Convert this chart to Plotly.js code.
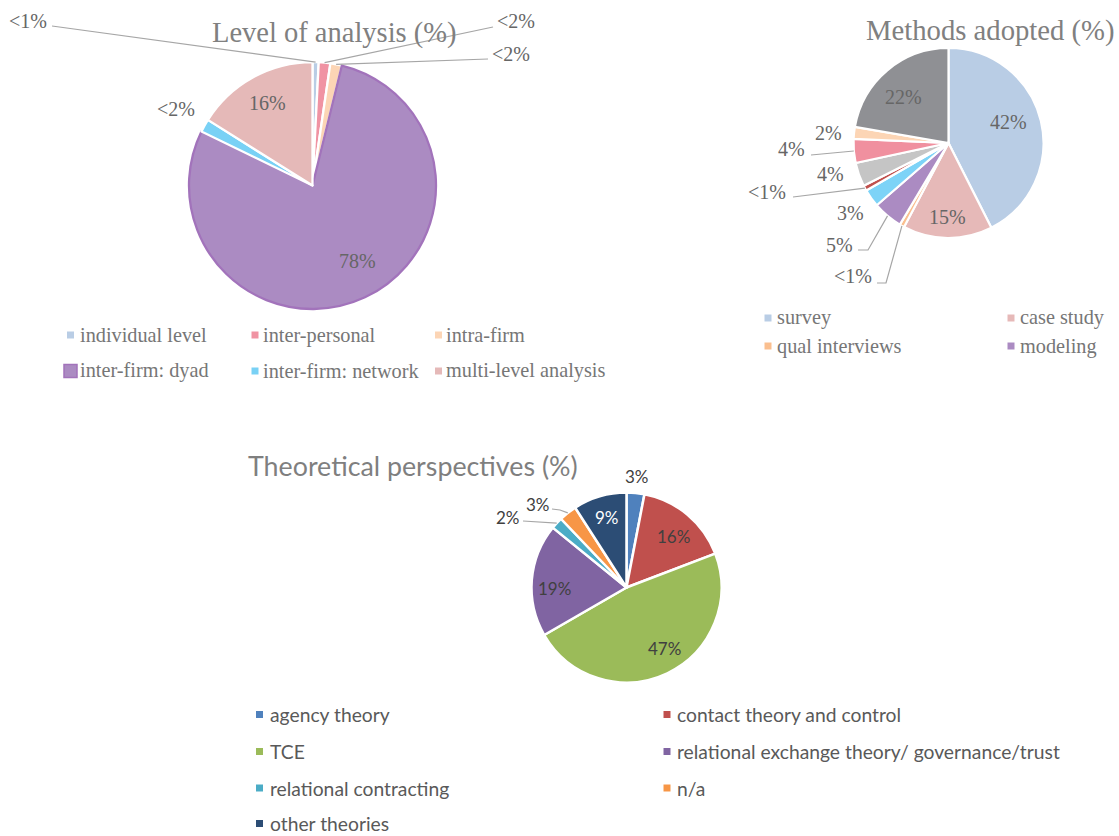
<!DOCTYPE html>
<html><head><meta charset="utf-8">
<script src="https://cdn.plot.ly/plotly-3.0.1.min.js"></script>
<style>html,body{margin:0;padding:0;background:#fff}#chart{width:1119px;height:836px}</style>
</head><body><div id="chart"></div>
<script>
// ---------------- data ----------------
const levelCategories = ['individual level', 'inter-personal', 'intra-firm', 'inter-firm: dyad', 'inter-firm: network', 'multi-level analysis'];
const levelValues = [0.8, 1.5, 1.5, 78, 1.7, 16];
const levelLabels = ['<1%', '<2%', '<2%', '78%', '<2%', '16%'];

const methodCategories = ['survey', 'case study', 'qual interviews', 'modeling', 'method 5', 'method 6', 'method 7', 'method 8', 'method 9', 'method 10'];
const methodValues = [42, 15, 0.8, 5, 3, 0.9, 4, 4, 2, 22];
const methodLabels = ['42%', '15%', '<1%', '5%', '3%', '<1%', '4%', '4%', '2%', '22%'];
const methodLegendCategories = ['survey', 'case study', 'qual interviews', 'modeling'];

const theoryCategories = ['agency theory', 'contact theory and control', 'TCE', 'relational exchange theory/ governance/trust', 'relational contracting', 'n/a', 'other theories'];
const theoryValues = [3, 16, 47, 19, 2, 3, 9];
const theoryLabels = ['3%', '16%', '47%', '19%', '2%', '3%', '9%'];

const titles = ['Level of analysis (%)', 'Methods adopted (%)', 'Theoretical perspectives (%)'];

// ---------------- styles / layout ----------------
const W = 1119, H = 836;
const fx = x => x / W, fy = y => 1 - y / H;

const levelColors = ['#b9cde5', '#f093a3', '#fcd5b5', '#ab8bc2', '#79d1f5', '#e5b9b8'];
const methodColors = ['#b9cde5', '#e6b9b8', '#fabf8f', '#ab8bc2', '#7dd3f7', '#c0504d', '#c5c5c5', '#f0909f', '#fcd5b5', '#8f9094'];
const theoryColors = ['#4f81bd', '#c0504d', '#9bbb59', '#8064a2', '#4bacc6', '#f79646', '#2c4d75'];

const serif = 'Liberation Serif, Times New Roman, serif';
const sans = 'Lato, Open Sans, sans-serif';

const pieGeo = [
  {cx: 312.5, cy: 185.5, r: 123.5},
  {cx: 948.5, cy: 143, r: 95},
  {cx: 626.5, cy: 587.5, r: 95}
];

function domainOf(g) {
  return {x: [fx(g.cx - g.r), fx(g.cx + g.r)], y: [fy(g.cy + g.r), fy(g.cy - g.r)]};
}

function edgePoint(values, i, g) {
  const total = values.reduce((a, b) => a + b, 0);
  let cum = 0;
  for (let k = 0; k < i; k++) cum += values[k];
  const a = (cum + values[i] / 2) / total * 2 * Math.PI;
  return [g.cx + g.r * Math.sin(a), g.cy - g.r * Math.cos(a)];
}

// label placement (pixels) and optional leader-line elbow points
const levelLabelPos = [
  {p: [28, 21], lead: [[52, 26]]},
  {p: [516, 21], lead: [[493, 27]]},
  {p: [511, 54], lead: [[488, 59]]},
  {p: [358, 261]},
  {p: [176, 109]},
  {p: [267, 103]}
];
const methodLabelPos = [
  {p: [1008, 122]},
  {p: [947, 217]},
  {p: [853, 276], lead: [[877, 283], [886, 283]]},
  {p: [840, 245], lead: [[858, 250], [868, 250]]},
  {p: [850, 213]},
  {p: [767, 192], lead: [[793, 197]]},
  {p: [830, 174]},
  {p: [791, 149], lead: [[811, 155]]},
  {p: [828, 133]},
  {p: [903, 97]}
];
const theoryLabelPos = [
  {p: [637, 476]},
  {p: [673, 536]},
  {p: [664, 648]},
  {p: [554, 588]},
  {p: [508, 517], lead: [[523, 521]]},
  {p: [538, 505], lead: [[552, 509], [560, 510]]},
  {p: [607, 517]}
];

const traces = [
  {
    type: 'pie', values: levelValues, labels: levelCategories, sort: false, direction: 'clockwise', rotation: 0,
    domain: domainOf(pieGeo[0]), textinfo: 'none', hoverinfo: 'none', showlegend: false,
    marker: {colors: levelColors, line: {color: ['#fff', '#fff', '#fff', '#a273bb', '#fff', '#fff'], width: 2.3}}
  },
  {
    type: 'pie', values: methodValues, labels: methodCategories, sort: false, direction: 'clockwise', rotation: 0,
    domain: domainOf(pieGeo[1]), textinfo: 'none', hoverinfo: 'none', showlegend: false,
    marker: {colors: methodColors, line: {color: '#fff', width: 2.2}}
  },
  {
    type: 'pie', values: theoryValues, labels: theoryCategories, sort: false, direction: 'clockwise', rotation: 0,
    domain: domainOf(pieGeo[2]), textinfo: 'none', hoverinfo: 'none', showlegend: false,
    marker: {colors: theoryColors, line: {color: '#fff', width: 2.5}}
  }
];

const annotations = [];
const shapes = [];

function addLabels(values, labels, pos, g, font, colorFn) {
  labels.forEach((t, i) => {
    const lp = pos[i];
    annotations.push({
      x: fx(lp.p[0]), y: fy(lp.p[1]), xref: 'paper', yref: 'paper', text: t, showarrow: false,
      xanchor: 'center', yanchor: 'middle', font: Object.assign({}, font, {color: colorFn(i)})
    });
    if (lp.lead) {
      const pts = lp.lead.concat([edgePoint(values, i, g)]);
      const d = pts.map((q, k) => (k ? 'L' : 'M') + fx(q[0]).toFixed(5) + ',' + fy(q[1]).toFixed(5)).join(' ');
      shapes.push({type: 'path', xref: 'paper', yref: 'paper', path: d, line: {color: '#a6a6a6', width: 1.2}});
    }
  });
}
addLabels(levelValues, levelLabels, levelLabelPos, pieGeo[0], {family: serif, size: 20}, () => '#666666');
addLabels(methodValues, methodLabels, methodLabelPos, pieGeo[1], {family: serif, size: 20}, () => '#666666');
addLabels(theoryValues, theoryLabels, theoryLabelPos, pieGeo[2], {family: sans, size: 17}, i => i === 6 ? '#ffffff' : '#404040');

// titles
const titlePos = [[334, 33], [990, 30], [412.5, 466]];
const titleFonts = [{family: serif, size: 28.5, color: '#808080'}, {family: serif, size: 28.7, color: '#808080'}, {family: sans, size: 26.8, color: '#7f7f7f'}];
titles.forEach((t, i) => annotations.push({
  x: fx(titlePos[i][0]), y: fy(titlePos[i][1]), xref: 'paper', yref: 'paper', text: t, showarrow: false,
  xanchor: 'center', yanchor: 'middle', font: titleFonts[i]
}));

// legends
function addLegend(items, colors, cols, rows, mx, tx, size, font, special) {
  items.forEach((name, i) => {
    const c = i % cols.length, r = Math.floor(i / cols.length);
    const y = rows[r];
    let s = size, line = {width: 0};
    if (special && special.index === i) { s = special.size; line = {color: special.border, width: 1.5}; }
    shapes.push({type: 'rect', xref: 'paper', yref: 'paper',
      x0: fx(mx[c] - s / 2), x1: fx(mx[c] + s / 2), y0: fy(y + s / 2), y1: fy(y - s / 2),
      fillcolor: colors[i], line: line});
    annotations.push({x: fx(tx[c]), y: fy(y), xref: 'paper', yref: 'paper', text: name, showarrow: false,
      xanchor: 'left', yanchor: 'middle', font: font, borderpad: 0});
  });
}
addLegend(levelCategories, levelColors, [0, 1, 2], [335, 371], [70.5, 255, 438.5], [79, 262, 445], 7,
  {family: serif, size: 20.3, color: '#767676'}, {index: 3, size: 13, border: '#a273bb'});
addLegend(methodLegendCategories, methodColors, [0, 1], [318, 346], [768, 1011], [776, 1019], 7,
  {family: serif, size: 20.3, color: '#767676'});
addLegend(theoryCategories, theoryColors, [0, 1], [714.5, 751.5, 788, 823.5], [259.5, 667], [269, 676], 7,
  {family: sans, size: 19.3, color: '#595959'});

const layout = {
  width: W, height: H, margin: {l: 0, r: 0, t: 0, b: 0},
  paper_bgcolor: '#ffffff', plot_bgcolor: '#ffffff',
  showlegend: false, annotations: annotations, shapes: shapes
};

Plotly.newPlot('chart', traces, layout, {displayModeBar: false, staticPlot: true});
</script>
</body></html>
